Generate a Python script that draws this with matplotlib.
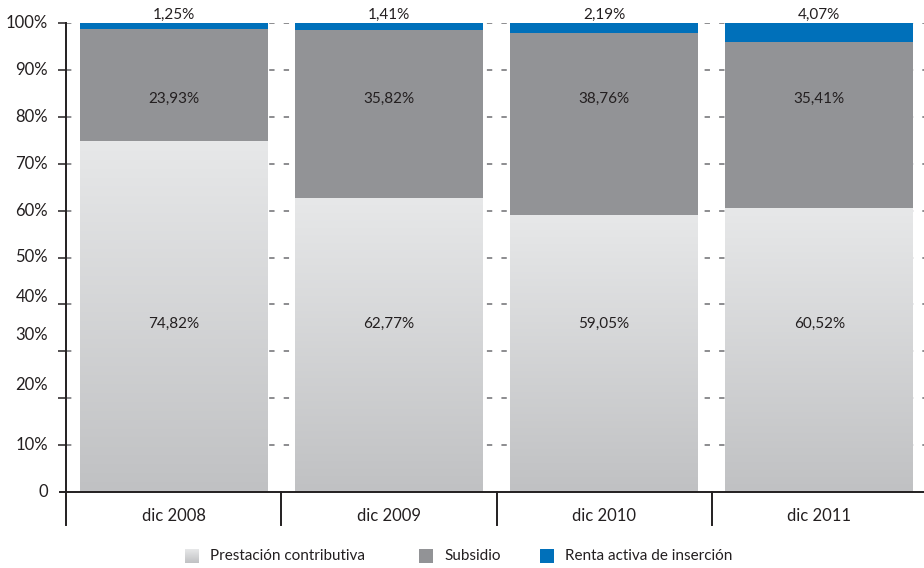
import numpy as np
import matplotlib
matplotlib.use("Agg")
import matplotlib.pyplot as plt
from matplotlib.patches import Rectangle
from matplotlib.colors import LinearSegmentedColormap

plt.rcParams['font.family'] = ['Lato', 'DejaVu Sans']

categories = ["dic 2008", "dic 2009", "dic 2010", "dic 2011"]
prestacion = [74.82, 62.77, 59.05, 60.52]
subsidio = [23.93, 35.82, 38.76, 35.41]
renta = [1.25, 1.41, 2.19, 4.07]
series_names = ["Prestación contributiva", "Subsidio", "Renta activa de inserción"]
ytick_values = [0, 10, 20, 30, 40, 50, 60, 70, 80, 90, 100]
ytick_labels = ["0", "10%", "20%", "30%", "40%", "50%", "60%", "70%", "80%", "90%", "100%"]
# label heights as typeset on the axis
ytick_label_pos = [0, 10, 22.8, 33.4, 41.5, 50, 60, 70, 80, 90, 100]

def fmt(v):
    return f"{v:.2f}".replace(".", ",") + "%"

GREY = "#929396"
BLUE = "#0070ba"
TXT = "#231f20"
grad_cmap = LinearSegmentedColormap.from_list("pc", ["#c0c1c3", "#e7e8e9"])

W, H = 924, 568
fig = plt.figure(figsize=(W / 100, H / 100), dpi=100)
ax = fig.add_axes([66 / W, 1 - 492 / H, (927 - 66) / W, (492 - 23) / H])
ax.set_xlim(-0.5, 3.5)
ax.set_ylim(0, 100)

x = np.arange(len(categories))
bw = 0.873

# dashed grid lines (visible in the gaps between bars)
for v in ytick_values[1:]:
    ax.axhline(v, color="#6d6e71", lw=1.1, ls=(0, (3.5, 6)), zorder=0)

gradient = np.linspace(0, 1, 256).reshape(-1, 1)
for i in range(len(categories)):
    # Prestación contributiva with vertical gradient
    r = Rectangle((x[i] - bw / 2, 0), bw, prestacion[i], facecolor="none", edgecolor="none", zorder=2)
    ax.add_patch(r)
    im = ax.imshow(gradient, cmap=grad_cmap, aspect="auto", origin="lower",
                   extent=(x[i] - bw / 2, x[i] + bw / 2, 0, prestacion[i]), zorder=2)
    im.set_clip_path(r)
ax.set_xlim(-0.5, 3.5)
ax.set_ylim(0, 100)

ax.bar(x, subsidio, bw, bottom=prestacion, color=GREY, zorder=2, linewidth=0)
bottom2 = [p + s for p, s in zip(prestacion, subsidio)]
ax.bar(x, renta, bw, bottom=bottom2, color=BLUE, zorder=2, linewidth=0)

for i in range(len(categories)):
    ax.text(x[i], 35.8, fmt(prestacion[i]), ha="center", va="center", fontsize=11, color=TXT, zorder=3)
    ax.text(x[i], 83.8, fmt(subsidio[i]), ha="center", va="center", fontsize=11, color=TXT, zorder=3)
    ax.text(x[i], 101.7, fmt(renta[i]), ha="center", va="center", fontsize=11, color=TXT,
            zorder=3, clip_on=False)

# axes frame
for s in ["top", "right", "left"]:
    ax.spines[s].set_visible(False)
ax.spines["bottom"].set_color(TXT)
ax.spines["bottom"].set_linewidth(1.4)
ax.plot([-0.5, -0.5], [-7.1, 100], color=TXT, lw=1.4, clip_on=False, zorder=4)
ax.plot([-0.528, -0.5], [0, 0], color=TXT, lw=1.4, clip_on=False, zorder=4)
for b in [0.5, 1.5, 2.5]:
    ax.plot([b, b], [-7.1, 0], color=TXT, lw=1.4, clip_on=False, zorder=4)

ax.set_yticks(ytick_values[1:])
ax.set_yticklabels([])
ax.tick_params(axis="y", length=6, width=1.1, color=TXT, direction="out", pad=2)
ax.set_xticks([])
for lab, pos in zip(ytick_labels, ytick_label_pos):
    ax.text(-0.584, pos, lab, ha="right", va="center", fontsize=12, color=TXT, clip_on=False)
for i, c in enumerate(categories):
    ax.text(x[i], -5.2, c, ha="center", va="center", fontsize=12, color=TXT, clip_on=False)

# legend
def legend_item(x0, label, color=None, grad=False):
    sq_ax = fig.add_axes([x0 / W, 1 - 563 / H, 14 / W, 14 / H])
    sq_ax.set_axis_off()
    if grad:
        sq_ax.imshow(gradient, cmap=grad_cmap, aspect="auto", origin="lower", extent=(0, 1, 0, 1))
    else:
        sq_ax.add_patch(Rectangle((0, 0), 1, 1, color=color))
    sq_ax.set_xlim(0, 1)
    sq_ax.set_ylim(0, 1)
    fig.text((x0 + 25) / W, 1 - 556 / H, label, ha="left", va="center", fontsize=11, color=TXT)

legend_item(185, series_names[0], grad=True)
legend_item(419, series_names[1], color=GREY)
legend_item(540, series_names[2], color=BLUE)

fig.savefig("out.png", dpi=100)
